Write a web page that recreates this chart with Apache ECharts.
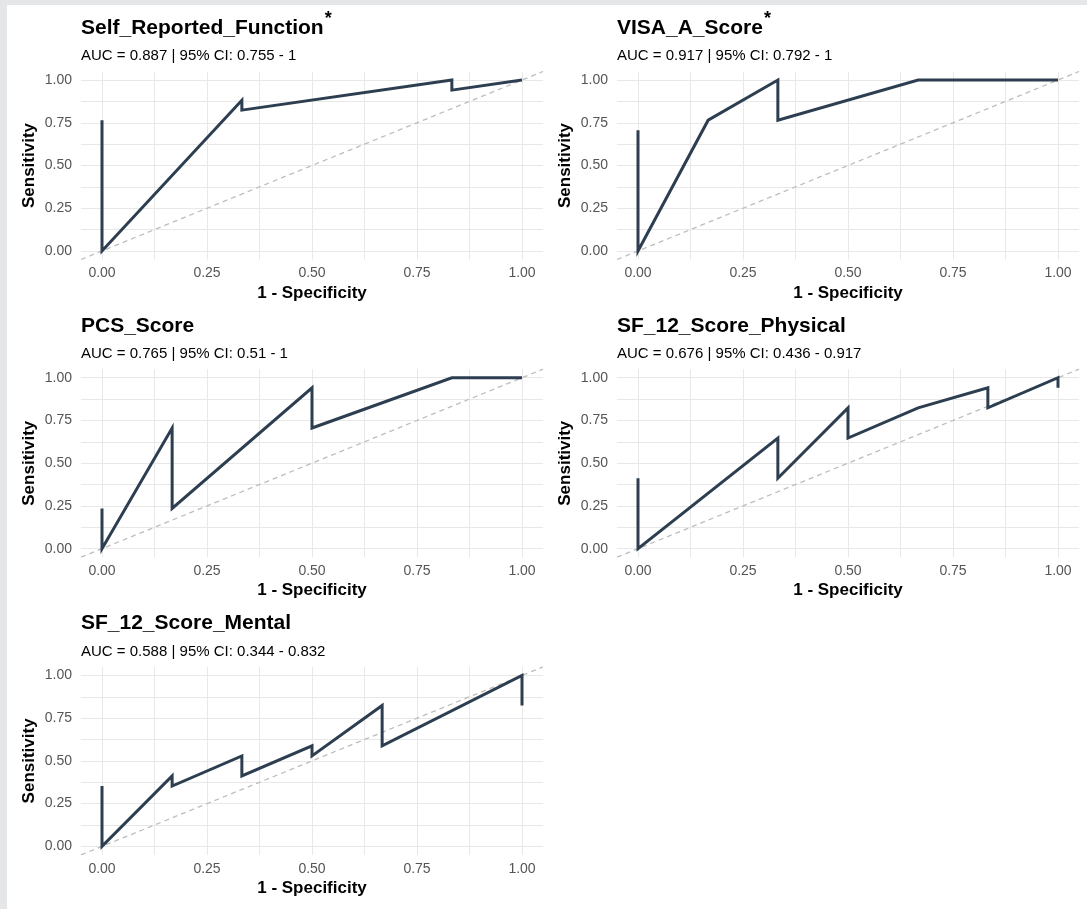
<!DOCTYPE html>
<html>
<head>
<meta charset="utf-8">
<script src="https://cdn.jsdelivr.net/npm/echarts@6/dist/echarts.min.js"></script>
<style>
html,body{margin:0;padding:0;background:#E5E6E8;overflow:hidden;}
#wrap{position:absolute;left:7px;top:5px;right:0;bottom:0;background:#ffffff;}
#chart{position:absolute;left:0;top:0;width:1087px;height:909px;}
</style>
</head>
<body>
<div id="wrap"></div>
<div id="chart"></div>
<script>
// ---- data ----
const panelNames = ['Self_Reported_Function', 'VISA_A_Score', 'PCS_Score', 'SF_12_Score_Physical', 'SF_12_Score_Mental'];
const significant = [true, true, false, false, false];
const subtitles = [
  'AUC = 0.887 | 95% CI: 0.755 - 1',
  'AUC = 0.917 | 95% CI: 0.792 - 1',
  'AUC = 0.765 | 95% CI: 0.51 - 1',
  'AUC = 0.676 | 95% CI: 0.436 - 0.917',
  'AUC = 0.588 | 95% CI: 0.344 - 0.832'
];
const fprSelf = [0, 0, 0.333, 0.333, 0.833, 0.833, 1];
const tprSelf = [0.765, 0, 0.882, 0.824, 1, 0.941, 1];
const fprVisa = [0, 0, 0.167, 0.333, 0.333, 0.667, 1];
const tprVisa = [0.706, 0, 0.765, 1, 0.765, 1, 1];
const fprPcs = [0, 0, 0.167, 0.167, 0.5, 0.5, 0.833, 1];
const tprPcs = [0.235, 0, 0.706, 0.235, 0.941, 0.706, 1, 1];
const fprPhys = [0, 0, 0.333, 0.333, 0.5, 0.5, 0.667, 0.833, 0.833, 1, 1];
const tprPhys = [0.412, 0, 0.647, 0.412, 0.824, 0.647, 0.824, 0.941, 0.824, 1, 0.941];
const fprMent = [0, 0, 0.167, 0.167, 0.333, 0.333, 0.5, 0.5, 0.667, 0.667, 1, 1];
const tprMent = [0.353, 0, 0.412, 0.353, 0.529, 0.412, 0.588, 0.529, 0.824, 0.588, 1, 0.824];
const tickValues = [0, 0.25, 0.5, 0.75, 1];
const gridValues = [0, 0.125, 0.25, 0.375, 0.5, 0.625, 0.75, 0.875, 1];
const diagX = [-0.05, 1.05];
const diagY = [-0.05, 1.05];

const fprs = [fprSelf, fprVisa, fprPcs, fprPhys, fprMent];
const tprs = [tprSelf, tprVisa, tprPcs, tprPhys, tprMent];

// ---- layout ----
const FONT = '"Liberation Sans", Arial, Helvetica, sans-serif';
const colLeft = [81, 617];
const rowTop = [71.5, 369.2, 666.9];
const gridW = 462, gridH = 188;

function measure(text, font) {
  const c = document.createElement('canvas').getContext('2d');
  c.font = font;
  return c.measureText(text).width;
}

const grids = [], xAxes = [], yAxes = [], series = [], titles = [];
panelNames.forEach((name, i) => {
  const col = i % 2, row = Math.floor(i / 2);
  const left = colLeft[col], top = rowTop[row];
  grids.push({left: left, top: top, width: gridW, height: gridH, containLabel: false});
  xAxes.push({
    type: 'value', gridIndex: i, min: -0.05, max: 1.05,
    name: '1 - Specificity', nameLocation: 'middle', nameGap: 25,
    nameTextStyle: {fontFamily: FONT, fontSize: 17, fontWeight: 'bold', color: '#000'},
    axisLine: {show: false, onZero: false},
    axisTick: {show: false, customValues: gridValues},
    axisLabel: {customValues: tickValues, formatter: v => v.toFixed(2), fontFamily: FONT, fontSize: 14, color: '#555', margin: 7},
    splitLine: {show: true, lineStyle: {color: '#E8E8E8', width: 1}}
  });
  yAxes.push({
    type: 'value', gridIndex: i, min: -0.05, max: 1.05,
    name: 'Sensitivity', nameLocation: 'middle', nameGap: 43, nameRotate: 90,
    nameTextStyle: {fontFamily: FONT, fontSize: 17, fontWeight: 'bold', color: '#000'},
    axisLine: {show: false, onZero: false},
    axisTick: {show: false, customValues: gridValues},
    axisLabel: {customValues: tickValues, formatter: v => v.toFixed(2), fontFamily: FONT, fontSize: 14, color: '#555', margin: 9},
    splitLine: {show: true, lineStyle: {color: '#E8E8E8', width: 1}}
  });
  series.push({
    type: 'line', xAxisIndex: i, yAxisIndex: i, silent: true,
    data: diagX.map((x, k) => [x, diagY[k]]),
    symbol: 'none', lineStyle: {color: '#BDBDBD', width: 1.3, type: [5, 4]}
  });
  series.push({
    type: 'line', xAxisIndex: i, yAxisIndex: i, silent: true,
    data: fprs[i].map((x, k) => [x, tprs[i][k]]),
    symbol: 'none', lineStyle: {color: '#2C3E50', width: 3, join: 'miter'}
  });
  const tTop = top - 71.5 + 16.3;
  titles.push({
    text: name, left: left, top: tTop, padding: 0,
    textStyle: {fontFamily: FONT, fontSize: 21, fontWeight: 'bold', color: '#000', lineHeight: 24}
  });
  titles.push({
    text: subtitles[i], left: left, top: top - 71.5 + 47.3, padding: 0,
    textStyle: {fontFamily: FONT, fontSize: 15, fontWeight: 'normal', color: '#000', lineHeight: 18}
  });
  if (significant[i]) {
    const w = measure(name, 'bold 21px ' + FONT);
    titles.push({
      text: '*', left: left + w + 1, top: top - 71.5 + 9.0, padding: 0,
      textStyle: {fontFamily: FONT, fontSize: 18, fontWeight: 'bold', color: '#000', lineHeight: 20}
    });
  }
});

const chart = echarts.init(document.getElementById('chart'), null, {renderer: 'canvas'});
chart.setOption({
  animation: false,
  title: titles,
  grid: grids,
  xAxis: xAxes,
  yAxis: yAxes,
  series: series
});
</script>
</body>
</html>
